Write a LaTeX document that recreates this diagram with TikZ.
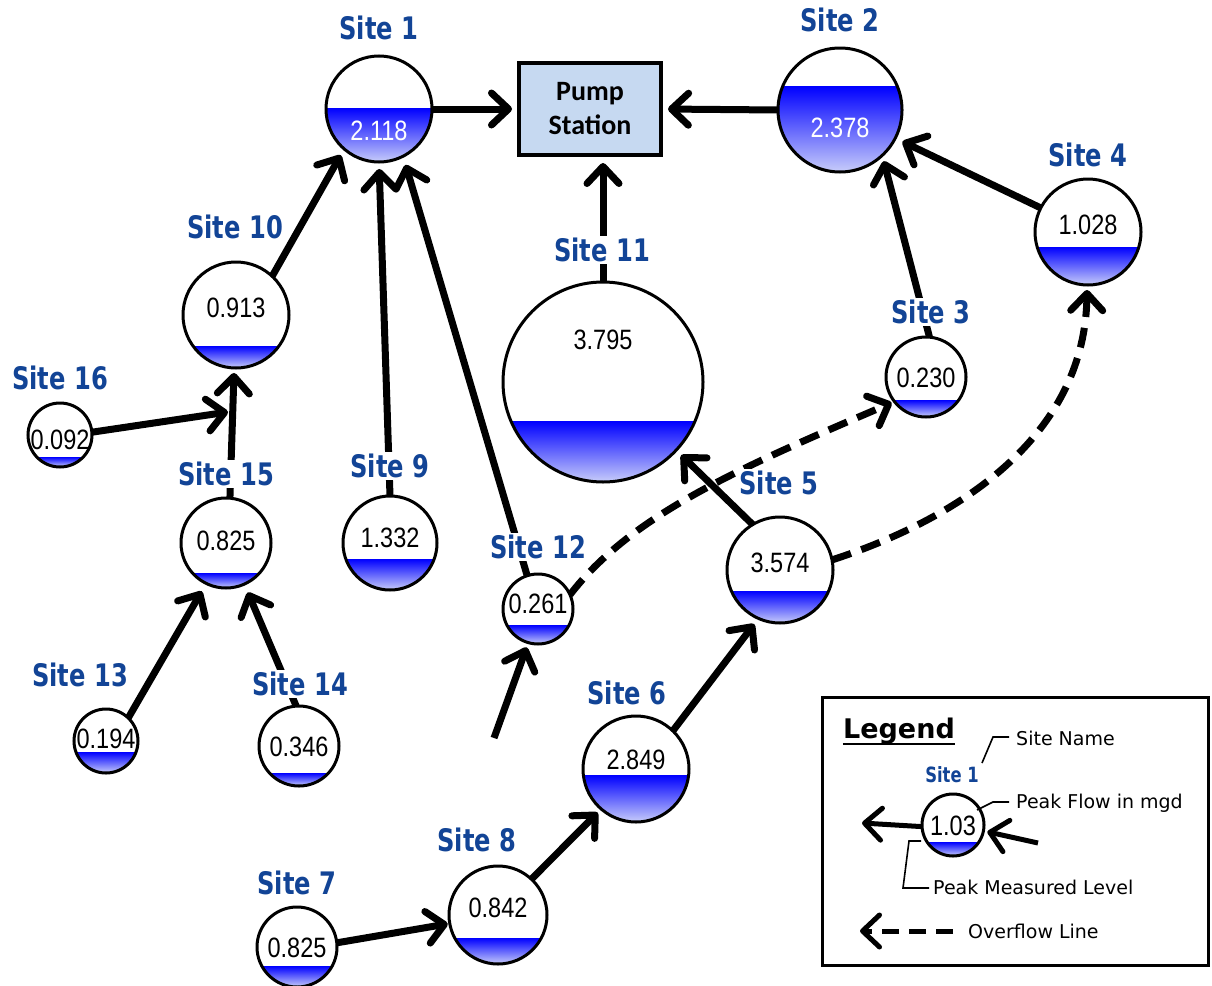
\documentclass[tikz,border=0pt]{standalone}
\usepackage{fontspec}
\usepackage{tikz}
\usetikzlibrary{arrows.meta}
\setmainfont{DejaVu Sans}
\newfontfamily\sitefont[FakeStretch=0.78]{DejaVu Sans}
\newfontfamily\valuefont[FakeStretch=0.84]{Liberation Sans}
\newfontfamily\pumpfont{Carlito}
\definecolor{sitecol}{RGB}{18,68,150}
\definecolor{waterlow}{RGB}{200,205,250}
\definecolor{pumpfill}{RGB}{198,217,241}

\begin{document}
\begin{tikzpicture}[x=1pt, y=-1pt,
            site/.style={circle, draw, line width=3pt, inner sep=0pt, outer sep=0pt},
            value/.style={font=\valuefont\fontsize{28}{28}\selectfont, inner sep=0pt},
            sitename/.style={font=\sitefont\bfseries\fontsize{31}{31}\selectfont, text=sitecol, fill=white, inner sep=2pt},
            flow/.style={line width=7pt, -{Straight Barb[length=17pt,width=32pt,round]}},
            overflow/.style={flow, dash pattern=on 20pt off 11pt},
            note/.style={font=\fontsize{19}{19}\selectfont, anchor=west, inner sep=0pt},
            leader/.style={line width=1.6pt}]
        \useasboundingbox (0,0) rectangle (1212,985);

        % sites: name/x/y/radius/water level/flow/flow y/text colour
        \foreach \n/\x/\y/\r/\w/\v/\vy/\c in {
                1/379/109/53/108/2.118/131/white, 2/840/110/62/86/2.378/128/white,
                3/926/377/40/400/0.230/378/black, 4/1088/232/53/247/1.028/225/black,
                5/780/570/53/591/3.574/563/black, 6/636/769/53/775/2.849/760/black,
                7/297/947/40/966/0.825/948/black, 8/498/915/49/938/0.842/908/black,
                9/390/543/47/559/1.332/538/black, 10/236/315/53/346/0.913/308/black,
                11/603/382/100/421/3.795/340/black, 12/538/609/35/625/0.261/604/black,
                13/106/741/32/752/0.194/739/black, 14/299/746/40/773/0.346/747/black,
                15/226/543/45/573/0.825/541/black, 16/60/435/32/457/0.092/440/black,
                L/953/825/31/842/1.03/826/black} {
            \begin{scope}
                \clip (\x,\y) circle [radius=\r];
                \shade [top color=blue, bottom color=waterlow] (\x-\r,\w) rectangle (\x+\r,\y+\r);
            \end{scope}
            \pgfmathsetmacro\dd{2*\r}
            \node [site, minimum size=\dd pt] (s\n) at (\x,\y) {};
            \node [value, text=\c] (v\n) at (\x,\vy) {\v};
        }

        \node [draw, line width=4pt, fill=pumpfill, minimum width=142pt, minimum height=92pt,
               align=center, font=\pumpfont\bfseries\fontsize{28}{34}\selectfont] (pump) at (590,109) {Pump\\Station};

        \coordinate (j16) at (228,412);
        \coordinate (f12) at (494,738);

        \draw [flow, shorten >=5pt] (s1.east) -- (pump.west);
        \draw [flow, shorten >=5pt] (s2.west) -- (pump.east);
        \draw [flow, shorten >=6pt] (s11.north) -- (s11.north |- pump.south);
        \draw [flow, shorten >=7pt] (s10.47) -- (s1.229);
        \draw [flow, shorten >=7pt] (s9.north) -- (s1.south);
        \draw [flow, shorten >=9pt] (s12.108) -- (s1.297);
        \draw [flow, shorten >=5pt] (s15.85) -- (s10.268);
        \draw [flow] (s16.5) -- (j16);
        \draw [flow, shorten >=9pt] (s13.46) -- (s15.244);
        \draw [flow, shorten >=9pt] (s14.94) -- (s15.294);
        \draw [flow, shorten >=2pt] (s7.6) -- (s8.190);
        \draw [flow, shorten >=5pt] (s8.47) -- (s6.229);
        \draw [flow, shorten >=7pt] (s6.46) -- (s5.246);
        \draw [flow, shorten >=5pt] (f12) -- (s12.254);
        \draw [flow, shorten >=7pt] (s5.121) -- (s11.317);
        \draw [flow, shorten >=6pt] (s3.85) -- (s2.313);
        \draw [flow, shorten >=8pt] (s4.153) -- (s2.333);

        % overflow lines
        \draw [overflow, shorten >=3pt] (s12.24) .. controls (632,514) and (742,467) .. (s3.218);
        \draw [overflow, shorten >=5pt] (s5.11) .. controls (970,515) and (1085,430) .. (s4.269);

        % site names
        \foreach \n/\lx/\ly in {1/379/28, 2/840/20, 3/931/312, 4/1088/155, 5/779/483, 6/627/693,
                7/297/883, 8/477/840, 9/390/466, 10/235/227, 11/602/250, 12/538/547,
                13/80/675, 14/300/684, 15/226/474, 16/60/378} {
            \node [sitename] (n\n) at (\lx,\ly) {Site \n};
        }

        % legend
        \draw [line width=3pt] (822,697) rectangle (1208,965);
        \node [anchor=base, inner sep=0pt, font=\bfseries\fontsize{27}{27}\selectfont] (title) at (899,738) {Legend};
        \draw [line width=2.5pt] ([yshift=-6pt]title.base west) -- ([yshift=-6pt]title.base east);
        \node [sitename, font=\sitefont\bfseries\fontsize{21}{21}\selectfont] (nL) at (952,775) {Site 1};
        \draw [leader] (982,763) -- (993,737) -- (1009,737);
        \node [note] (tname) at (1016,738) {Site Name};
        \draw [leader] (977,810) -- (993,802) -- (1009,802);
        \node [note] (tflow) at (1016,803) {Peak Flow in mgd};
        \draw [leader] (921,841) -- (909,841) -- (903,888) -- (929,888);
        \node [note] (tlevel) at (933,887) {Peak Measured Level};
        \coordinate (lgo) at (862,823);
        \coordinate (lgi) at (1038,843);
        \coordinate (lda) at (953,931);
        \coordinate (ldb) at (860,931);
        \draw [flow, line width=5pt] (sL.183) -- (lgo);
        \draw [flow, line width=5pt, shorten >=4pt] (lgi) -- (sL.349);
        \draw [overflow, line width=5pt, dash pattern=on 17pt off 10pt] (lda) -- (ldb);
        \node [note] (tover) at (968,931) {Overflow Line};
    \end{tikzpicture}
\end{document}
